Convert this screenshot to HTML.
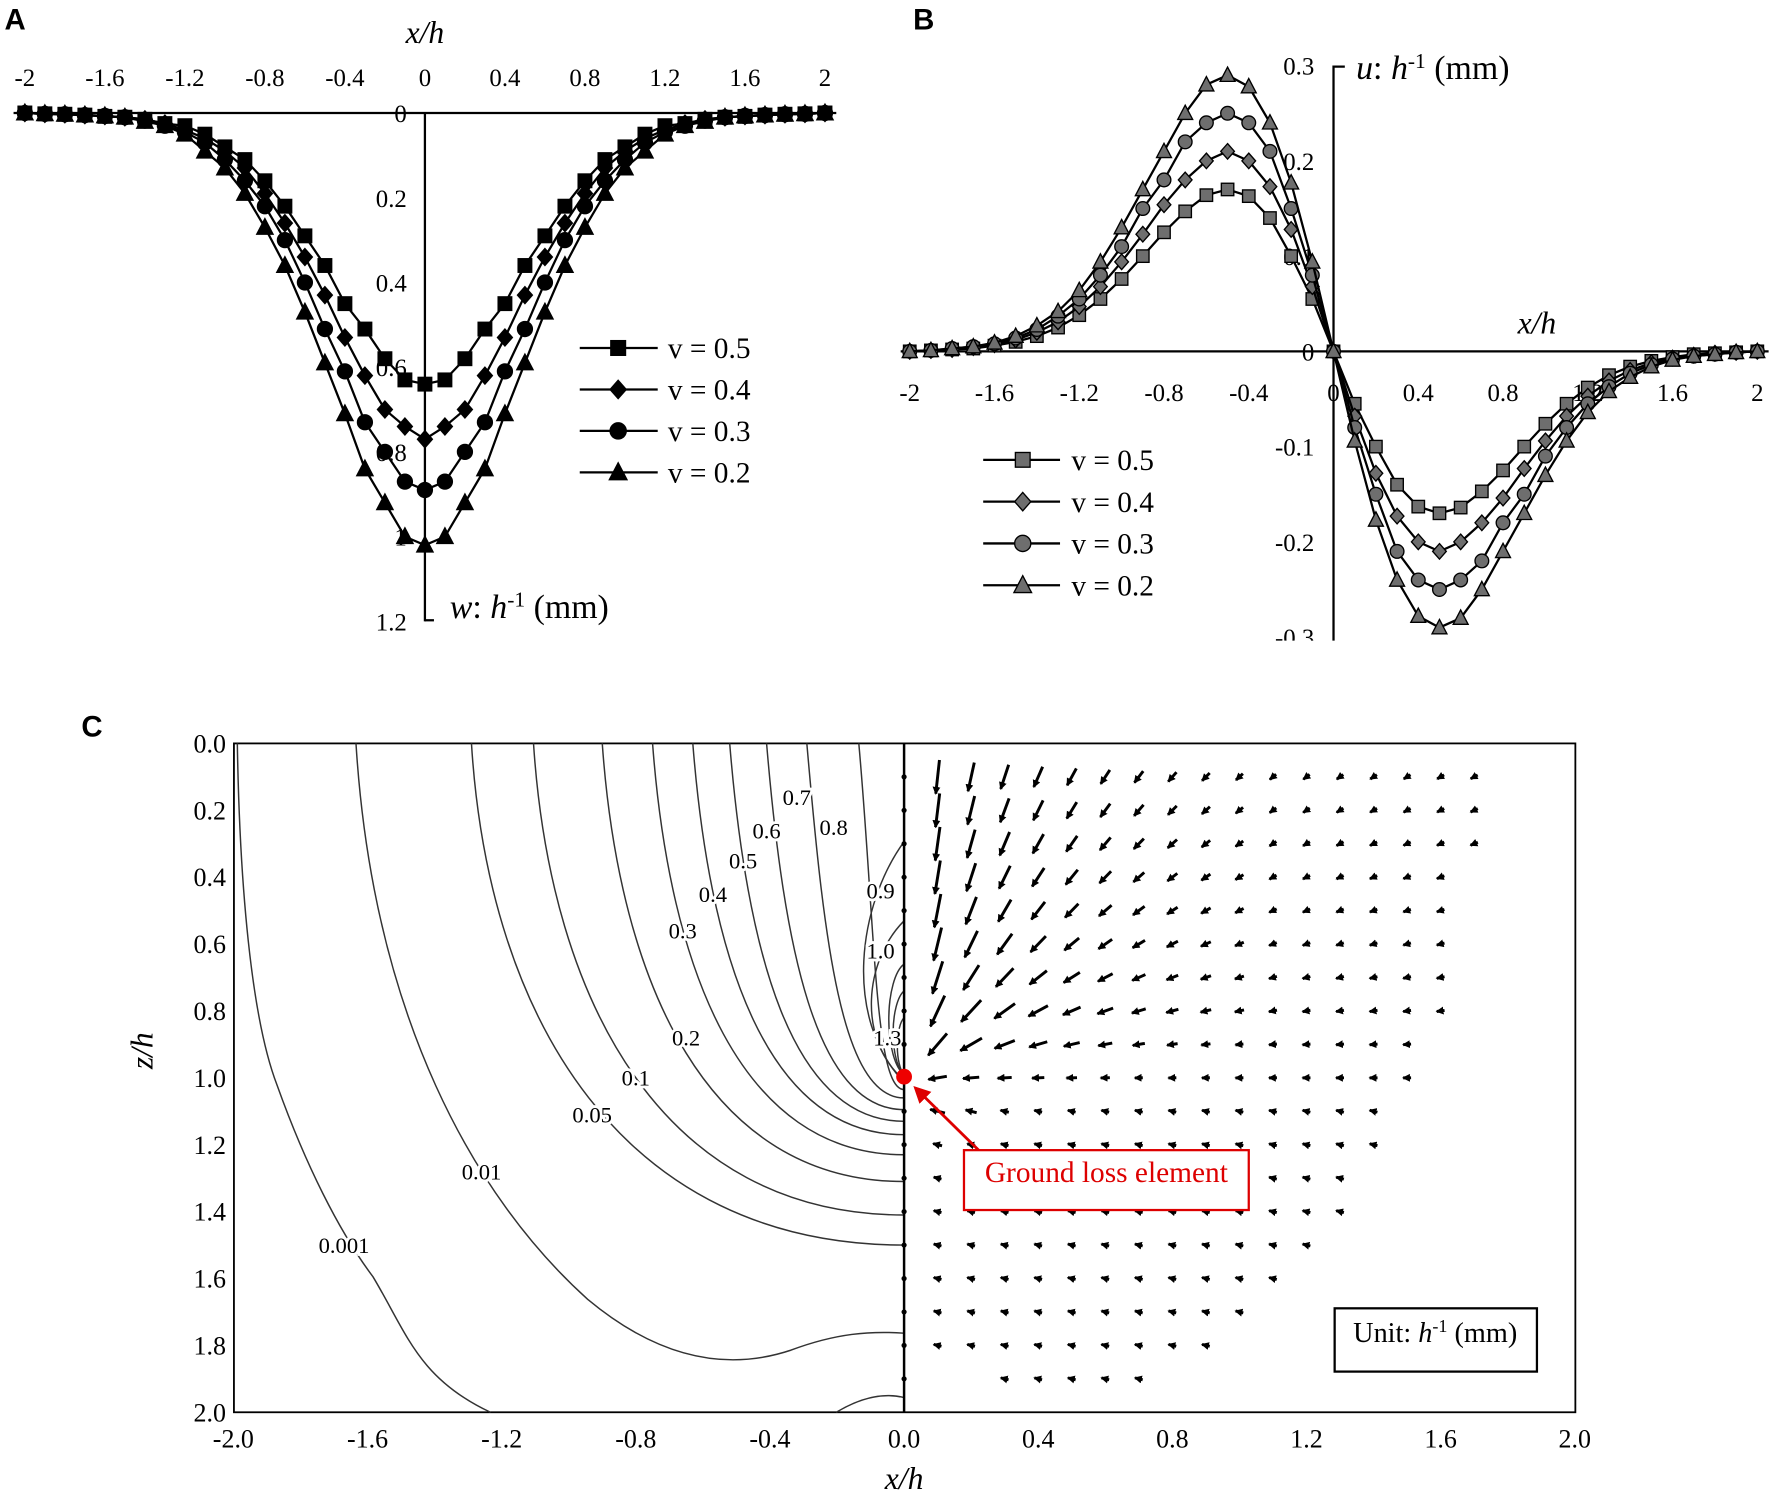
<!DOCTYPE html>
<html><head><meta charset="utf-8"><style>
html,body{margin:0;padding:0;background:#fff}
svg{display:block}
text{font-family:"Liberation Serif",serif;fill:#000}
.lt{font-family:"Liberation Sans",sans-serif;font-weight:bold}
</style></head><body>
<svg id="fig" width="1772" height="1497" viewBox="0 0 1568 1325" preserveAspectRatio="none" xmlns="http://www.w3.org/2000/svg">
<defs>
<clipPath id="clipB"><rect x="780" y="40" width="800" height="527"/></clipPath>
<marker id="ah" markerWidth="8" markerHeight="8" refX="6" refY="3.5" orient="auto" markerUnits="userSpaceOnUse"><path d="M0,0 L7,3.5 L0,7 z" fill="#000"/></marker>
<marker id="ahr" markerWidth="6" markerHeight="6" refX="5" refY="3" orient="auto" markerUnits="strokeWidth"><path d="M0,0 L6,3 L0,6 z" fill="#d00"/></marker>
</defs>
<g id="gA"></g>
<g id="gB" clip-path="url(#clipB)"></g>
<g id="gC"></g>
</svg>
<script>
const xs41 = [-2,-1.9,-1.8,-1.7,-1.6,-1.5,-1.4,-1.3,-1.2,-1.1,-1,-0.9,-0.8,-0.7,-0.6,-0.5,-0.4,-0.3,-0.2,-0.1,0,0.1,0.2,0.3,0.4,0.5,0.6,0.7,0.8,0.9,1,1.1,1.2,1.3,1.4,1.5,1.6,1.7,1.8,1.9,2];
const seriesLabels = ["v = 0.5","v = 0.4","v = 0.3","v = 0.2"];
const wV05 = [0,0.002,0.003,0.005,0.008,0.01,0.015,0.025,0.03,0.05,0.08,0.11,0.16,0.22,0.29,0.36,0.45,0.51,0.58,0.63,0.64,0.63,0.58,0.51,0.45,0.36,0.29,0.22,0.16,0.11,0.08,0.05,0.03,0.025,0.015,0.01,0.008,0.005,0.003,0.002,0];
const wV04 = [0,0.002,0.003,0.005,0.007,0.01,0.015,0.025,0.04,0.06,0.09,0.13,0.19,0.26,0.34,0.43,0.53,0.62,0.7,0.74,0.77,0.74,0.7,0.62,0.53,0.43,0.34,0.26,0.19,0.13,0.09,0.06,0.04,0.025,0.015,0.01,0.007,0.005,0.003,0.002,0];
const wV03 = [0,0.002,0.003,0.005,0.007,0.01,0.018,0.03,0.045,0.07,0.11,0.16,0.22,0.3,0.4,0.51,0.61,0.73,0.8,0.87,0.89,0.87,0.8,0.73,0.61,0.51,0.4,0.3,0.22,0.16,0.11,0.07,0.045,0.03,0.018,0.01,0.007,0.005,0.003,0.002,0];
const wV02 = [0,0.002,0.003,0.005,0.007,0.01,0.02,0.03,0.05,0.09,0.13,0.19,0.27,0.36,0.47,0.59,0.71,0.84,0.92,1.0,1.02,1.0,0.92,0.84,0.71,0.59,0.47,0.36,0.27,0.19,0.13,0.09,0.05,0.03,0.02,0.01,0.007,0.005,0.003,0.002,0];
const uV05 = [0,0.001,0.002,0.003,0.006,0.01,0.016,0.025,0.038,0.055,0.076,0.1,0.125,0.147,0.164,0.17,0.163,0.14,0.1,0.055,0,-0.055,-0.1,-0.14,-0.163,-0.17,-0.164,-0.147,-0.125,-0.1,-0.076,-0.055,-0.038,-0.025,-0.016,-0.01,-0.006,-0.003,-0.002,-0.001,0];
const uV04 = [0,0.001,0.002,0.004,0.007,0.012,0.02,0.031,0.047,0.068,0.094,0.123,0.154,0.18,0.2,0.21,0.2,0.173,0.128,0.068,0,-0.068,-0.128,-0.173,-0.2,-0.21,-0.2,-0.18,-0.154,-0.123,-0.094,-0.068,-0.047,-0.031,-0.02,-0.012,-0.007,-0.004,-0.002,-0.001,0];
const uV03 = [0,0.001,0.003,0.005,0.008,0.014,0.023,0.037,0.055,0.08,0.11,0.15,0.18,0.22,0.24,0.25,0.24,0.21,0.15,0.08,0,-0.08,-0.15,-0.21,-0.24,-0.25,-0.24,-0.22,-0.18,-0.15,-0.11,-0.08,-0.055,-0.037,-0.023,-0.014,-0.008,-0.005,-0.003,-0.001,0];
const uV02 = [0,0.001,0.003,0.005,0.009,0.016,0.027,0.042,0.064,0.094,0.13,0.17,0.21,0.25,0.28,0.29,0.278,0.24,0.177,0.094,0,-0.094,-0.177,-0.24,-0.278,-0.29,-0.28,-0.25,-0.21,-0.17,-0.13,-0.094,-0.064,-0.042,-0.027,-0.016,-0.009,-0.005,-0.003,-0.001,0];
const xTicksAB = ["-2","-1.6","-1.2","-0.8","-0.4","0","0.4","0.8","1.2","1.6","2"];
const xTickValsAB = [-2,-1.6,-1.2,-0.8,-0.4,0,0.4,0.8,1.2,1.6,2];
const wTickVals = [0,0.2,0.4,0.6,0.8,1,1.2];
const wTickLabels = ["0","0.2","0.4","0.6","0.8","1","1.2"];
const uTickVals = [0.3,0.2,0.1,0,-0.1,-0.2,-0.3];
const uTickLabels = ["0.3","0.2","0.1","0","-0.1","-0.2","-0.3"];
const cXTicks = [-2,-1.6,-1.2,-0.8,-0.4,0,0.4,0.8,1.2,1.6,2];
const cXLabels = ["-2.0","-1.6","-1.2","-0.8","-0.4","0.0","0.4","0.8","1.2","1.6","2.0"];
const cZTicks = [0,0.2,0.4,0.6,0.8,1,1.2,1.4,1.6,1.8,2];
const cZLabels = ["0.0","0.2","0.4","0.6","0.8","1.0","1.2","1.4","1.6","1.8","2.0"];
// contour lines (0.05 ... 0.8): start x/h at surface, end depth z/h at x=0
const contourStartX = [-1.29,-1.105,-0.9,-0.75,-0.63,-0.52,-0.41,-0.29,-0.135];
const contourEndZ = [1.5,1.41,1.31,1.23,1.17,1.13,1.095,1.06,1.035];
const contourLabels = [["0.7",-0.32,0.16],["0.8",-0.21,0.25],["0.6",-0.41,0.26],["0.5",-0.48,0.35],["0.4",-0.57,0.45],["0.9",-0.07,0.44],["0.3",-0.66,0.56],["1.0",-0.07,0.62],["1.3",-0.05,0.88],["0.2",-0.65,0.88],["0.1",-0.8,1.0],["0.05",-0.93,1.11],["0.01",-1.26,1.28],["0.001",-1.67,1.5]];
// quiver extent: row depth and max x
const qRows = [0.1,0.2,0.3,0.4,0.5,0.6,0.7,0.8,0.9,1.0,1.1,1.2,1.3,1.4,1.5,1.6,1.7,1.8,1.9];
const qMaxX = [1.7,1.7,1.7,1.6,1.6,1.6,1.6,1.6,1.5,1.5,1.4,1.4,1.3,1.3,1.2,1.1,1.0,0.9,0.7];

const NS="http://www.w3.org/2000/svg";
function el(parent,tag,attrs,txt){const e=document.createElementNS(NS,tag);for(const k in attrs)e.setAttribute(k,attrs[k]);if(txt!==undefined)e.textContent=txt;parent.appendChild(e);return e;}
function marker(g,type,x,y,fill,s){let m;
 if(type==0)m=el(g,'rect',{x:x-s,y:y-s,width:2*s,height:2*s,fill:fill,stroke:'#000','stroke-width':1.2});
 else if(type==1)m=el(g,'polygon',{points:`${x},${y-s*1.25} ${x+s*1.1},${y} ${x},${y+s*1.25} ${x-s*1.1},${y}`,fill:fill,stroke:'#000','stroke-width':1.2});
 else if(type==2)m=el(g,'circle',{cx:x,cy:y,r:s*1.1,fill:fill,stroke:'#000','stroke-width':1.2});
 else m=el(g,'polygon',{points:`${x},${y-s*1.3} ${x+s*1.2},${y+s} ${x-s*1.2},${y+s}`,fill:fill,stroke:'#000','stroke-width':1.2});
 return m;}

// ---------- Panel A ----------
const gA=document.getElementById('gA');
const ax=v=>376+v*177, ay=v=>100+v*375;
el(gA,'text',{x:4,y:26,'font-size':26,class:'lt',},'A');
el(gA,'line',{x1:12,y1:100,x2:740,y2:100,stroke:'#000','stroke-width':2,});
el(gA,'line',{x1:376,y1:100,x2:376,y2:550,stroke:'#000','stroke-width':2,});
el(gA,'line',{x1:376,y1:549,x2:384,y2:549,stroke:'#000','stroke-width':2});
xTickValsAB.forEach((v,i)=>{const t=el(gA,'text',{x:ax(v),y:76,'font-size':22,'text-anchor':'middle'},xTicksAB[i]);
 
 });
wTickVals.forEach((v,i)=>{const t=el(gA,'text',{x:360,y:ay(v)+8,'font-size':22,'text-anchor':'end'},wTickLabels[i]);
 
 });
el(gA,'text',{x:376,y:38,'font-size':28,'font-style':'italic','text-anchor':'middle',},'x/h');
const tA=el(gA,'text',{x:398,y:547,'font-size':30,});
tA.innerHTML='<tspan font-style="italic">w</tspan>: <tspan font-style="italic">h</tspan><tspan dy="-10" font-size="19">-1</tspan><tspan dy="10"> (mm)</tspan>';
[wV05,wV04,wV03,wV02].forEach((s,k)=>{
 const g=el(gA,'g',{});
 
 
 el(g,'polyline',{points:s.map((v,i)=>ax(xs41[i])+','+ay(v)).join(' '),fill:'none',stroke:'#000','stroke-width':2});
 s.forEach((v,i)=>{const m=marker(g,k,ax(xs41[i]),ay(v),'#000',6);
  
  });
 const ly=308+k*36.7;
 el(g,'line',{x1:513,y1:ly,x2:582,y2:ly,stroke:'#000','stroke-width':2});
 marker(g,k,547,ly,'#000',6.5);
 const lt=el(g,'text',{x:591,y:ly+9,'font-size':26},seriesLabels[k]);
 
 
});

// ---------- Panel B ----------
const gB=document.getElementById('gB');
const bx=v=>1180+v*187.5, by=v=>311-v*843;
el(document.getElementById('fig'),'text',{x:808,y:26,'font-size':26,class:'lt',},'B');
el(gB,'line',{x1:797,y1:311,x2:1565,y2:311,stroke:'#000','stroke-width':2,});
el(gB,'line',{x1:1180,y1:58,x2:1180,y2:570,stroke:'#000','stroke-width':2,});
el(gB,'line',{x1:1180,y1:59,x2:1190,y2:59,stroke:'#000','stroke-width':2});
xTickValsAB.forEach((v,i)=>{const t=el(gB,'text',{x:bx(v),y:355,'font-size':22,'text-anchor':'middle'},xTicksAB[i]);
 
 });
uTickVals.forEach((v,i)=>{const t=el(gB,'text',{x:1163,y:by(v)+8,'font-size':22,'text-anchor':'end'},uTickLabels[i]);
 
 });
el(gB,'text',{x:1360,y:295,'font-size':28,'font-style':'italic','text-anchor':'middle',},'x/h');
const tB=el(gB,'text',{x:1200,y:70,'font-size':30,});
tB.innerHTML='<tspan font-style="italic">u</tspan>: <tspan font-style="italic">h</tspan><tspan dy="-10" font-size="19">-1</tspan><tspan dy="10"> (mm)</tspan>';
[uV05,uV04,uV03,uV02].forEach((s,k)=>{
 const g=el(gB,'g',{});
 
 
 el(g,'polyline',{points:s.map((v,i)=>bx(xs41[i])+','+by(v)).join(' '),fill:'none',stroke:'#000','stroke-width':2});
 s.forEach((v,i)=>{const m=marker(g,k,bx(xs41[i]),by(v),'#6e6e6e',5.5);
  
  });
 const ly=407+k*37;
 el(g,'line',{x1:870,y1:ly,x2:938,y2:ly,stroke:'#000','stroke-width':2});
 marker(g,k,905,ly,'#6e6e6e',6.5);
 const lt=el(g,'text',{x:948,y:ly+9,'font-size':26},seriesLabels[k]);
 
 
});

// ---------- Panel C ----------
const gC=document.getElementById('gC');
const cx=v=>800+v*296.75, cz=v=>658+v*296;
el(gC,'text',{x:72,y:652,'font-size':26,class:'lt',},'C');
el(gC,'rect',{x:207,y:658,width:1187,height:592,fill:'none',stroke:'#000','stroke-width':1.6,});
cXTicks.forEach((v,i)=>{const t=el(gC,'text',{x:cx(v),y:1281,'font-size':23,'text-anchor':'middle'},cXLabels[i]);
 
 });
cZTicks.forEach((v,i)=>{const t=el(gC,'text',{x:200,y:cz(v)+8,'font-size':23,'text-anchor':'end'},cZLabels[i]);
 
 });
el(gC,'text',{x:800,y:1318,'font-size':28,'font-style':'italic','text-anchor':'middle',},'x/h');
el(gC,'text',{x:0,y:0,'font-size':28,'font-style':'italic','text-anchor':'middle',transform:'translate(135,930) rotate(-90)',},'z/h');
// contours
const cg=el(gC,'g',{fill:'none',stroke:'#333','stroke-width':1.3});


contourStartX.forEach((sx,i)=>{
 const x0=cx(sx),y0=658,y3=cz(contourEndZ[i]);
 const d=`M${x0},${y0} C${x0+15},${y0+0.55*(y3-y0)} ${x0+(800-x0)*0.35},${y3} 800,${y3}`;
 const p=el(cg,'path',{d:d});
 
 
});
const p01=el(cg,'path',{d:`M315,658 C330,900 420,1060 520,1150 C580,1200 640,1215 700,1195 C740,1180 770,1178 800,1180`});


const p001=el(cg,'path',{d:`M210,658 C212,780 222,900 245,960 C270,1030 300,1090 330,1130 C360,1180 370,1220 434,1250`});


el(cg,'path',{d:`M740,1250 C760,1238 780,1232 800,1237`});
el(cg,'path',{d:`M800,745 C760,800 745,900 800,958`});
el(cg,'path',{d:`M800,815 C765,850 758,920 800,956`});
[[0.06,0.17],[0.045,0.13],[0.03,0.09]].forEach(r=>{const e=el(cg,'path',{d:`M800,${cz(1-r[1]*2)} A${r[0]*296.75} ${r[1]*296} 0 0 0 800,${cz(0.99)}`});
 
 });
contourLabels.forEach(l=>{const t=el(gC,'text',{x:cx(l[1]),y:cz(l[2])+7,'font-size':20,'text-anchor':'middle',stroke:'#fff','stroke-width':5,'paint-order':'stroke'},l[0]);
 
 });
el(gC,'line',{x1:800,y1:658,x2:800,y2:1250,stroke:'#000','stroke-width':2.2,});
// quiver
const qg=el(gC,'g',{stroke:'#000','stroke-width':2.6});


const sxp=cx(0),szp=cz(1);
qRows.forEach((z,ri)=>{
 for(let k=1;k<=Math.round(qMaxX[ri]*10);k++){
  const xv=k/10;
  if(z==1.9&&xv<0.3)continue;
  const px=cx(xv),py=cz(z);
  let ux,uy,L;
  if(z<=1.0){ux=sxp-px;uy=(szp-py)*1.0+5;L=30*Math.exp(-(xv-0.1)/0.7)*(z>0.85?Math.max(0.45,1-(z-0.85)*3):1);}
  else{ux=-1;uy=-0.25;L=22*Math.exp(-(xv-0.1)/0.35)*Math.exp(-(z-1)/0.2);}
  L=Math.max(L,7);
  const r=Math.hypot(ux,uy);
  const a=el(qg,'line',{x1:px-ux/r*L/2,y1:py-uy/r*L/2,x2:px+ux/r*L/2,y2:py+uy/r*L/2,'marker-end':'url(#ah)'});
  
  
 }
});
for(let k=1;k<20;k++){el(gC,'circle',{cx:800,cy:cz(k/10),r:2.3,fill:'#000'});}
el(gC,'circle',{cx:800,cy:953,r:7,fill:'#e00',});
el(gC,'line',{x1:868,y1:1020,x2:810,y2:963,stroke:'#d00','stroke-width':2.5,'marker-end':'url(#ahr)',});
el(gC,'rect',{x:853,y:1018,width:252,height:53,fill:'#fff',stroke:'#d00','stroke-width':2,});
el(gC,'text',{x:979,y:1046,'font-size':26,'text-anchor':'middle',fill:'#d00',style:'fill:#d00',},'Ground loss element');
el(gC,'rect',{x:1181,y:1158,width:179,height:56,fill:'#fff',stroke:'#000','stroke-width':2,});
const tU=el(gC,'text',{x:1270,y:1188,'font-size':25,'text-anchor':'middle',});
tU.innerHTML='Unit: <tspan font-style="italic">h</tspan><tspan dy="-9" font-size="16">-1</tspan><tspan dy="9"> (mm)</tspan>';
</script>
</body></html>
